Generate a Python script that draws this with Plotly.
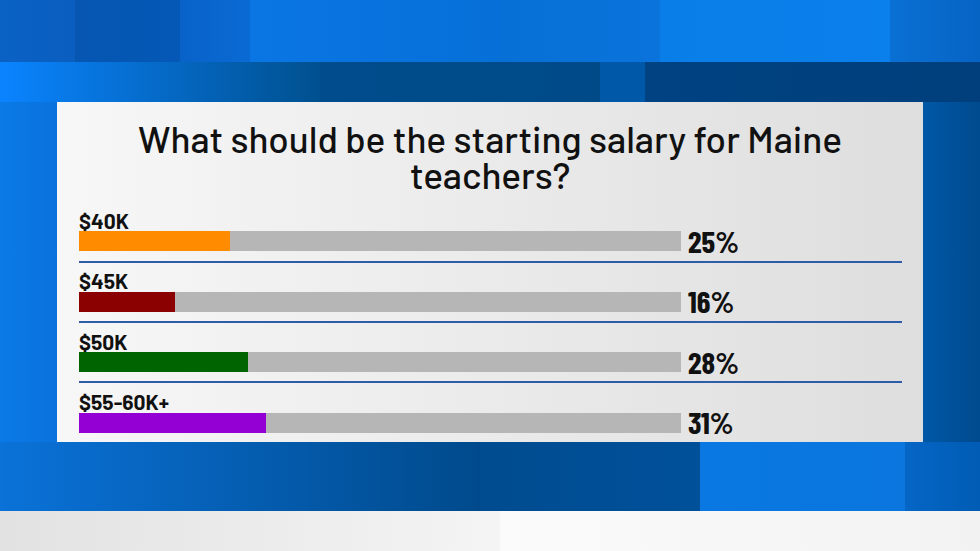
import plotly.graph_objects as go

# ---- data ----
title_lines = ["What should be the starting salary for Maine", "teachers?"]
categories = ["$40K", "$45K", "$50K", "$55-60K+"]
percent_values = [25, 16, 28, 31]
bar_colors = ["#ff8c00", "#8b0000", "#006400", "#9400d3"]
track_value = 100

W, H = 980, 551
fig = go.Figure()


def grad_rect(x0, x1, y0, y1, c0, c1, kind="horizontal"):
    fig.add_trace(go.Scatter(
        x=[x0, x1, x1, x0, x0], y=[y0, y0, y1, y1, y0],
        mode="lines", line=dict(width=0), fill="toself",
        fillgradient=dict(type=kind, colorscale=[[0, c0], [1, c1]]),
        hoverinfo="skip", showlegend=False, xaxis="x", yaxis="y"))


# ---- background mosaic (pixel space) ----
top_strips = [(0, 75, "#0a62c4", "#0a5ec0"), (75, 180, "#0656b2", "#0558b6"),
              (180, 250, "#0862c8", "#0a6ad4"), (250, 500, "#0a76e4", "#0670d8"),
              (500, 660, "#0670d6", "#0a74dc"), (660, 890, "#0a7ee8", "#0a80ec"),
              (890, 980, "#0a70d4", "#0664c4")]
for x0, x1, a, b in top_strips:
    grad_rect(x0, x1, 0, 62, a, b)
grad_rect(0, 320, 62, 102, "#0a84ff", "#00508f")
grad_rect(320, 600, 62, 102, "#004c8c", "#004a88")
grad_rect(600, 645, 62, 102, "#0058a8", "#0058a8")
grad_rect(645, 980, 62, 102, "#004282", "#003f7c")
grad_rect(0, 57, 102, 442, "#0a7ae6", "#0a72dc")
grad_rect(923, 980, 102, 442, "#0058a6", "#004a8e")
grad_rect(0, 480, 442, 511, "#0a72d8", "#004a8c")
grad_rect(480, 700, 442, 511, "#004c90", "#00509a")
grad_rect(700, 905, 442, 511, "#0a78e2", "#0a76de")
grad_rect(905, 980, 442, 511, "#0666c6", "#005cb4")
grad_rect(0, 500, 511, 551, "#e2e2e2", "#f4f4f4")
grad_rect(500, 980, 511, 551, "#fbfbfb", "#f2f2f2")
# panel
grad_rect(57, 923, 102, 442, "#f7f7f7", "#dedede")

# ---- bars ----
fig.add_trace(go.Bar(
    x=[track_value] * len(categories), y=categories, orientation="h",
    marker=dict(color="#b6b6b6", line=dict(width=0)), width=0.33,
    xaxis="x2", yaxis="y2", hoverinfo="skip", showlegend=False))
fig.add_trace(go.Bar(
    x=percent_values, y=categories, orientation="h",
    marker=dict(color=bar_colors, line=dict(width=0)), width=0.33,
    xaxis="x2", yaxis="y2", showlegend=False))

annotations = []
for cat, v in zip(categories, percent_values):
    annotations.append(dict(
        x=0, y=cat, xref="x2", yref="y2", xanchor="left", yanchor="middle",
        yshift=21, xshift=-2, text=f"<b>{cat}</b>", showarrow=False,
        font=dict(family="Barlow, Roboto", size=21, color="#111111")))
    annotations.append(dict(
        x=track_value, y=cat, xref="x2", yref="y2", xanchor="left", yanchor="middle",
        xshift=5, yshift=1, text=f"<b>{v}%</b>", showarrow=False,
        font=dict(family="Barlow Condensed, Oswald, Roboto Condensed",
                  size=31, color="#111111")))
title_font = dict(family="Barlow, Roboto", size=37, color="#111111", weight=500)
annotations.append(dict(
    x=490, y=138, xref="x", yref="y", xanchor="center", yanchor="middle",
    text=title_lines[0], showarrow=False, font=title_font))
annotations.append(dict(
    x=490, y=198, xref="x", yref="y", xanchor="center", yanchor="bottom",
    height=36, valign="bottom",
    text=title_lines[1], showarrow=False, font=title_font))

shapes = []
for ysep in [262, 322, 382]:
    shapes.append(dict(type="line", xref="x", yref="y", x0=79, x1=902, y0=ysep, y1=ysep,
                       line=dict(color="#2d5da8", width=2)))

n = len(categories)
row_px = 60.5
top_px = 241 - row_px / 2
bot_px = top_px + row_px * n

fig.update_layout(
    width=W, height=H, margin=dict(l=0, r=0, t=0, b=0),
    paper_bgcolor="#0a64c8", plot_bgcolor="rgba(0,0,0,0)",
    barmode="overlay", bargap=0,
    xaxis=dict(range=[0, W], domain=[0, 1], visible=False, fixedrange=True),
    yaxis=dict(range=[H, 0], domain=[0, 1], visible=False, fixedrange=True),
    xaxis2=dict(range=[0, 100], domain=[79 / W, 681 / W], anchor="y2", visible=False),
    yaxis2=dict(type="category", categoryorder="array", categoryarray=categories,
                range=[n - 0.5, -0.5], domain=[1 - bot_px / H, 1 - top_px / H],
                anchor="x2", visible=False),
    annotations=annotations, shapes=shapes, showlegend=False,
)
fig.write_html("out.html", config={"displayModeBar": False},
               post_script="document.body.style.margin='0';")
